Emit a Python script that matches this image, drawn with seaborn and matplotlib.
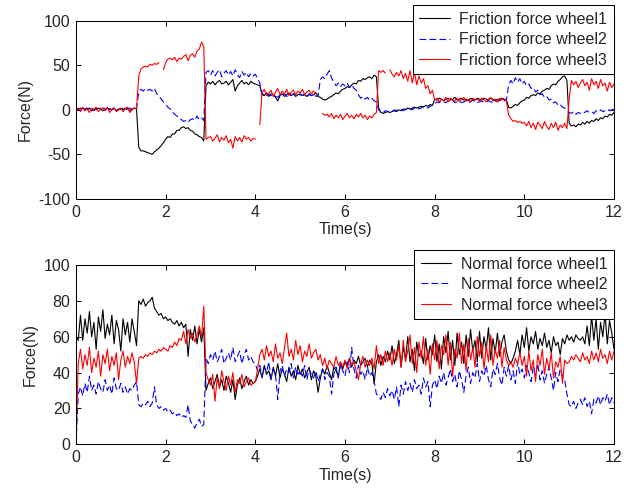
import numpy as np
import pandas as pd
import matplotlib
matplotlib.use("Agg")
import matplotlib.pyplot as plt
from matplotlib.lines import Line2D
import seaborn as sns

# Sampling instants: 0 to 12 s every 0.05 s (241 samples)
time_s = np.round(np.arange(241) * 0.05, 2)

nan = np.nan

# ---- Friction forces (N), one row per second ----
friction_w1 = [
    0, 1, -1, 2, 0, 1, 2, -1, 1, 0, 2, 1, -1, 0, 2, 1, 0, 2, -1, 1,
    1, 0, 2, 1, -1, 1, 2, 1, -42, -46, -46, -47, -48, -49, -50, -47, -45, -43, -40, -37,
    -33, -30, -31, -27, -27, -23, -23, -20, -19, -21, -20, -23, -24, -27, -28, -30, -31, -35, 27, 31,
    29, 32, 28, 31, 33, 29, 30, 32, 28, 31, 34, 21, 27, 30, 33, 29, 31, 28, 32, 30,
    29, 28, 27, 17, 16, 19, 15, 18, 17, 14, 10, 16, 18, 15, 17, 19, 16, 18, 15, 17,
    18, 16, 17, 15, 18, 16, 17, 19, 15, 14, 12, 11, 12, 14, 15, 17, 19, 18, 21, 23,
    24, 26, 25, 28, 30, 29, 33, 32, 35, 34, 36, 37, 35, 39, 37, 2, -3, -4, -3, -2,
    -3, -2, -1, -2, 0, -1, 1, 0, 2, 1, 2, 3, 2, 3, 4, 3, 5, 4, 6, 5,
    12, 11, 13, 12, 10, 12, 13, 11, 12, 14, 11, 12, 13, 11, 12, 10, 13, 12, 11, 13,
    12, 11, 13, 12, 11, 13, 12, 10, 12, 11, 13, 12, 11, 3, 2, 4, 6, 5, 8, 10,
    11, 14, 13, 16, 17, 16, 19, 18, 21, 22, 24, 23, 27, 29, 28, 32, 34, 37, 38, 33,
    -15, -18, -17, -19, -16, -17, -14, -16, -13, -15, -12, -13, -10, -12, -9, -10, -7, -8, -5, -6,
    -3,
]
friction_w2 = [
    1, 0, 2, -1, 1, 2, 0, 1, -1, 2, 1, 0, 2, 1, -1, 1, 0, 2, 1, 0,
    1, 2, 0, 1, 2, 0, 1, 2, 20, 23, 21, 24, 22, 23, 21, 24, 18, 15, 12, 9,
    6, 3, 1, -2, -5, -7, -9, -11, -13, -12, -14, -11, -10, -12, -7, -11, -9, -12, 42, 44,
    39, 44, 38, 42, 45, 37, 41, 44, 39, 43, 38, 45, 40, 36, 43, 39, 42, 37, 41, 38,
    40, 35, 30, 18, 17, 15, 18, 16, 17, 15, 14, 17, 16, 18, 15, 17, 16, 18, 17, 16,
    17, 16, 18, 15, 17, 16, 18, 15, 16, 34, 37, 35, 40, 44, 36, 31, 27, 30, 26, 29,
    27, 30, 25, 28, 24, 22, 17, 13, 15, 12, 14, 11, 13, 10, 9, 0, -2, -3, -1, -2,
    -1, -2, 0, -1, 1, 0, -1, 1, 2, 1, 0, 2, 3, 1, 2, 4, 3, 2, 4, 5,
    7, 9, 8, 10, 9, 8, 10, 9, 11, 8, 9, 10, 8, 9, 10, 8, 9, 11, 9, 8,
    9, 10, 8, 9, 10, 9, 8, 10, 9, 11, 9, 10, 11, 28, 33, 29, 36, 31, 35, 29,
    32, 27, 29, 24, 25, 20, 22, 17, 18, 14, 15, 11, 12, 8, 9, 5, 6, 3, 2, 0,
    -3, -4, -2, -5, -3, -4, -2, -3, -1, -3, -2, -4, -1, -2, 0, -2, -1, 1, -1, 0,
    1,
]
friction_w3 = [
    0, 2, -2, 3, -1, 1, -3, 2, 0, 3, -2, 1, 2, -1, 3, -3, 1, 2, -2, 0,
    2, -2, 1, 3, -3, 0, 2, 1, 38, 46, 48, 49, 48, 51, 50, 52, 51, 53, nan, 45,
    53, 57, 58, 56, 59, 54, 58, 57, 60, 62, 55, 61, 63, 59, 66, 68, 76, 71, -33, -31,
    -30, -35, -32, -28, -36, -31, -34, -29, -37, -33, -43, -30, -35, -31, -36, -29, -33, -31, -35, -32,
    -33, nan, -17, 20, 23, 16, 19, 22, 15, 20, 24, 17, 21, 18, 23, 16, 20, 22, 17, 21,
    19, 23, 17, 20, 22, 18, 21, 19, nan, nan, -4, -6, -5, -8, -4, -10, -6, -9, -5, -11,
    -7, -4, -9, -6, -10, -5, -8, -4, -9, -6, -11, -7, -9, -5, -3, 44, 42, 44, 41, nan,
    45, 40, 37, 42, 38, 44, 35, 41, 32, 44, 30, 42, 28, 38, 30, 35, 24, 27, 18, 22,
    11, 13, 9, 12, 10, 14, 9, 13, 11, 10, 13, 9, 12, 14, 10, 12, 9, 13, 11, 12,
    10, 13, 11, 9, 12, 14, 10, 12, 9, 13, 11, 12, 10, -6, -10, -13, -12, -14, -13, -15,
    -14, -18, -13, -20, -15, -22, -14, -17, -21, -13, -19, -22, -15, -20, -14, -23, -17, -20, -15, -21,
    12, 33, 28, 32, 25, 30, 34, 27, 31, 22, 35, 28, 32, 24, 34, 27, 30, 21, 31, 25,
    29,
]

# ---- Normal forces (N), one row per second ----
normal_w1 = [
    60, 58, 72, 58, 70, 62, 74, 60, 68, 53, 71, 63, 75, 59, 67, 61, 72, 56, 69, 64,
    52, 70, 61, 68, 57, 70, 63, 55, 80, 78, 81, 77, 79, 80, 82, 76, 74, 72, 73, 70,
    71, 69, 70, 68, 67, 69, 66, 68, 65, 67, 49, 64, 58, 66, 56, 64, 57, 65, 30, 34,
    37, 31, 35, 39, 32, 36, 30, 38, 34, 29, 36, 25, 33, 37, 31, 35, 38, 33, 36, 34,
    35, 38, 42, 37, 44, 39, 41, 36, 43, 38, 45, 37, 42, 39, 35, 43, 38, 41, 36, 44,
    39, 42, 37, 40, 43, 36, 41, 38, 29, 37, 42, 39, 44, 40, 36, 43, 41, 38, 45, 42,
    46, 44, 48, 43, 47, 45, 49, 44, 46, 48, 43, 47, 45, 34, 46, 50, 44, 49, 46, 52,
    47, 55, 45, 50, 58, 43, 54, 48, 60, 46, 53, 41, 57, 49, 52, 45, 59, 47, 55, 50,
    61, 46, 56, 42, 60, 51, 63, 47, 58, 44, 62, 50, 57, 45, 61, 49, 64, 52, 58, 46,
    63, 48, 60, 53, 65, 47, 59, 51, 62, 49, 57, 61, 52, 47, 45, 48, 52, 58, 50, 61,
    54, 65, 52, 60, 56, 63, 53, 59, 55, 62, 54, 58, 51, 60, 55, 57, 50, 59, 56, 61,
    58, 60, 57, 61, 59, 58, 60, 56, 66, 55, 72, 58, 70, 53, 68, 60, 73, 56, 69, 62,
    53,
]
normal_w2 = [
    0, 28, 32, 27, 34, 29, 38, 30, 33, 28, 35, 31, 29, 36, 30, 33, 28, 37, 31, 30,
    34, 29, 32, 28, 31, 30, 33, 35, 22, 21, 23, 22, 24, 21, 23, 32, 22, 20, 21, 19,
    20, 18, 19, 17, 18, 16, 17, 15, 16, 15, 22, 13, 11, 9, 12, 14, 10, 11, 48, 45,
    50, 47, 52, 46, 49, 53, 45, 48, 51, 47, 54, 46, 49, 52, 45, 50, 53, 47, 49, 46,
    45, 41, 44, 38, 43, 40, 46, 37, 42, 39, 25, 41, 44, 38, 42, 40, 45, 37, 43, 39,
    41, 38, 44, 36, 42, 39, 37, 41, 35, 39, 42, 36, 40, 38, 28, 39, 43, 37, 45, 41,
    38, 46, 40, 54, 42, 37, 44, 39, 41, 36, 43, 38, 40, 35, 28, 27, 25, 29, 26, 31,
    27, 30, 25, 32, 21, 33, 28, 35, 30, 34, 29, 36, 31, 33, 28, 37, 32, 35, 21, 33,
    36, 31, 38, 34, 40, 33, 37, 42, 35, 39, 32, 41, 36, 29, 38, 43, 34, 40, 37, 45,
    35, 41, 38, 44, 36, 32, 42, 39, 45, 37, 33, 43, 38, 44, 36, 41, 34, 46, 39, 42,
    37, 44, 40, 35, 43, 38, 45, 36, 41, 34, 39, 43, 37, 30, 40, 35, 42, 38, 36, 28,
    22, 21, 24, 20, 23, 25, 22, 26, 21, 24, 17, 25, 23, 27, 22, 26, 24, 28, 22, 26,
    23,
]
normal_w3 = [
    0, 45, 53, 42, 50, 44, 54, 40, 48, 43, 52, 38, 50, 45, 53, 41, 49, 44, 51, 36,
    47, 52, 43, 49, 45, 51, 46, 34, 48, 49, 48, 50, 49, 51, 50, 52, 51, 53, 52, 54,
    53, 52, 55, 54, 57, 55, 59, 58, 63, 56, 64, 59, 62, 57, 61, 66, 60, 77, 40, 36,
    33, 39, 24, 37, 31, 41, 35, 30, 38, 33, 40, 29, 36, 34, 39, 32, 35, 37, 33, 34,
    35, 42, 50, 53, 47, 55, 49, 52, 46, 56, 48, 51, 45, 54, 62, 49, 53, 47, 58, 50,
    55, 46, 52, 49, 56, 48, 51, 53, 47, 50, 44, 48, 42, 47, 45, 43, 49, 44, 46, 43,
    47, 42, 48, 44, 46, 41, 36, 45, 49, 43, 47, 44, 48, 42, 55, 45, 50, 44, 52, 46,
    51, 44, 53, 47, 55, 43, 58, 46, 52, 61, 45, 54, 40, 57, 48, 60, 44, 53, 39, 56,
    47, 58, 42, 55, 50, 61, 44, 57, 38, 53, 48, 62, 45, 56, 41, 59, 47, 54, 43, 60,
    49, 57, 42, 55, 46, 61, 44, 53, 48, 58, 43, 54, 47, 44, 46, 43, 48, 45, 51, 44,
    49, 38, 52, 41, 47, 35, 50, 44, 53, 39, 48, 42, 51, 37, 46, 43, 49, 34, 47, 45,
    46, 49, 47, 50, 48, 46, 51, 47, 49, 45, 52, 47, 51, 46, 53, 48, 50, 45, 52, 47,
    52,
]

friction_labels = ["Friction force wheel1", "Friction force wheel2", "Friction force wheel3"]
normal_labels = ["Normal force wheel1", "Normal force wheel2", "Normal force wheel3"]

colors = ["#000000", "#0000ff", "#ff0000"]
styles = ["-", (0, (6, 3)), "-"]

sns.set_theme(style="ticks")
plt.rcParams["font.family"] = ["Liberation Sans", "DejaVu Sans"]
plt.rcParams["axes.linewidth"] = 0.75
plt.rcParams["axes.unicode_minus"] = False
FS = 11.5

fig = plt.figure(figsize=(6.38, 4.90), dpi=100)
ax_top = fig.add_axes([0.1191, 0.5939, 0.8433, 0.3639])
ax_bot = fig.add_axes([0.1191, 0.0933, 0.8433, 0.3659])


def draw_series(ax, values, color, ls):
    df = pd.DataFrame({"t": time_s, "v": np.asarray(values, dtype=float)})
    df["seg"] = df["v"].isna().cumsum()
    df = df.dropna()
    sns.lineplot(data=df, x="t", y="v", units="seg", estimator=None,
                 color=color, linewidth=0.8, linestyle=ls, sort=False,
                 legend=False, ax=ax)


def style_axes(ax, ylim, yticks, labels, anchor_y):
    ax.set_xlim(0, 12)
    ax.set_ylim(*ylim)
    ax.set_xticks(range(0, 13, 2))
    ax.set_yticks(yticks)
    ax.set_xlabel("Time(s)", fontsize=FS, labelpad=2)
    ax.set_ylabel("Force(N)", fontsize=FS, labelpad=4)
    ax.tick_params(direction="in", top=True, right=True, length=3.5,
                   width=0.7, labelsize=FS, pad=4, color="black")
    for sp in ax.spines.values():
        sp.set_color("black")
        sp.set_linewidth(0.75)
    handles = [Line2D([], [], color=c, linestyle=s, linewidth=0.8)
               for c, s in zip(colors, styles)]
    leg = ax.legend(handles, labels, loc="upper right",
                    bbox_to_anchor=(1.0, anchor_y), borderaxespad=0,
                    fontsize=FS, frameon=True, fancybox=False,
                    framealpha=1, edgecolor="black", handlelength=1.9,
                    handletextpad=0.6, borderpad=0.42, labelspacing=0.34)
    leg.get_frame().set_linewidth(0.75)


for vals, c, s in zip([friction_w1, friction_w2, friction_w3], colors, styles):
    draw_series(ax_top, vals, c, s)
for vals, c, s in zip([normal_w1, normal_w2, normal_w3], colors, styles):
    draw_series(ax_bot, vals, c, s)

style_axes(ax_top, (-100, 100), [-100, -50, 0, 50, 100], friction_labels, 1.088)
style_axes(ax_bot, (0, 100), [0, 20, 40, 60, 80, 100], normal_labels, 1.084)

fig.savefig("out.png", dpi=100, facecolor="white")
